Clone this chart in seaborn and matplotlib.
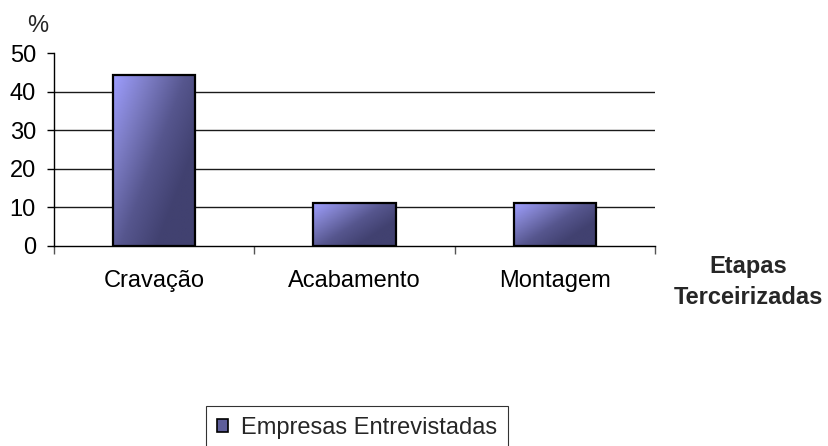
import matplotlib
matplotlib.use("Agg")
import matplotlib.pyplot as plt
import matplotlib.patches as mpatches
from matplotlib.colors import LinearSegmentedColormap
import numpy as np
import pandas as pd
import seaborn as sns

# data
etapas = ["Cravação", "Acabamento", "Montagem"]
percentuais = [44.4, 11.1, 11.1]
serie = "Empresas Entrevistadas"
yTicks = [0, 10, 20, 30, 40, 50]

df = pd.DataFrame({"Etapa": etapas, "Percentual": percentuais, "Serie": [serie] * len(etapas)})

sns.set_style("white")
plt.rcParams['font.family'] = ['Liberation Sans', 'DejaVu Sans']

fig = plt.figure(figsize=(8.29, 4.46), dpi=100)
ax = fig.add_axes([54 / 829, 200 / 446, 601 / 829, 193 / 446])

sns.barplot(x="Etapa", y="Percentual", data=df, color="#6a6aa8", width=0.41,
            edgecolor="black", linewidth=1.6, ax=ax, legend=False)

# gradient fill (light top-left -> dark bottom-right), clipped to each bar
cmap = LinearSegmentedColormap.from_list("grad", ["#9e9eff", "#7c7cc4", "#56568e", "#414170"])
u, v = np.meshgrid(np.linspace(0, 1, 120), np.linspace(0, 1, 120))
grad = np.clip(0.75 * u + 0.6 * v, 0, 1)
for patch in ax.patches:
    x0, y0 = patch.get_x(), patch.get_y()
    w, h = patch.get_width(), patch.get_height()
    im = ax.imshow(grad, cmap=cmap, vmin=0, vmax=1, extent=(x0, x0 + w, y0, y0 + h),
                   origin="upper", aspect="auto", interpolation="bilinear", zorder=1)
    im.set_clip_path(patch)
    patch.set_facecolor("none")
    patch.set_zorder(1.2)

ax.set_xlim(-0.5, len(etapas) - 0.5)
ax.set_ylim(0, 50)
ax.set_yticks(yTicks)
ax.set_axisbelow(True)
ax.yaxis.grid(True, color="#1a1a1a", linewidth=1.0)
for tick in ax.yaxis.get_major_ticks():
    if tick.get_loc() in (0, 50):
        tick.gridline.set_visible(False)

for s in ["top", "right"]:
    ax.spines[s].set_visible(False)
for s in ["left", "bottom"]:
    ax.spines[s].set_color("black")
    ax.spines[s].set_linewidth(1.0)

ax.set_xlabel("")
ax.set_ylabel("")
ax.tick_params(axis="y", left=True, length=5, width=1, color="black", pad=8, labelsize=17, labelcolor="black")
ax.tick_params(axis="x", which="major", length=0, pad=17, labelsize=17, labelcolor="black")
ax.set_xticks(np.arange(-0.5, len(etapas)), minor=True)
ax.tick_params(axis="x", which="minor", bottom=True, length=6, width=1, color="#555555")

fig.text(38 / 829, 1 - 26 / 446, "%", ha="center", va="center", fontsize=17)
fig.text(748 / 829, 1 - 282 / 446, "Etapas\nTerceirizadas", ha="center", va="center",
         fontsize=17, fontweight="bold", linespacing=1.45)

handle = mpatches.Patch(facecolor="#5e5e9a", edgecolor="black", linewidth=1.2, label=serie)
leg = fig.legend(handles=[handle], loc="upper left", bbox_to_anchor=(206 / 829, 1 - 406 / 446),
                 fontsize=17, frameon=True, fancybox=False, shadow=False, borderpad=0.45,
                 handlelength=0.5, handleheight=0.5, handletextpad=0.55, borderaxespad=0)
leg.get_frame().set_edgecolor("black")
leg.get_frame().set_linewidth(0.8)

fig.savefig("out.png", dpi=100)
